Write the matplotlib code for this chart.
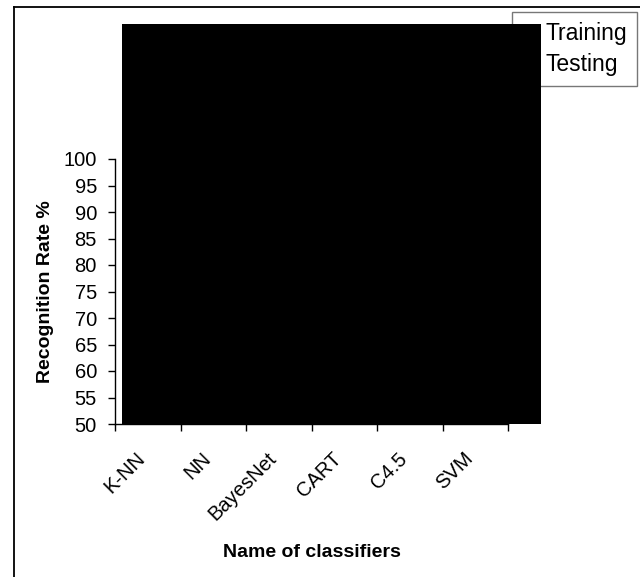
import matplotlib
matplotlib.use("Agg")
import matplotlib.pyplot as plt
from matplotlib.patches import Rectangle, Patch
from matplotlib.lines import Line2D
from matplotlib.transforms import ScaledTranslation
import numpy as np

plt.rcParams['font.family'] = ['Liberation Sans', 'DejaVu Sans']

classifiers = ["K-NN", "NN", "BayesNet", "CART", "C4.5", "SVM"]
series = ["Training", "Testing"]
y_ticks = [50, 55, 60, 65, 70, 75, 80, 85, 90, 95, 100]

# extent of the filled panel in data units
panel_left, panel_right = -0.39, 6.0
panel_bottom, panel_top = 50, 125.5

W, H = 640, 577
fig = plt.figure(figsize=(W / 100, H / 100), dpi=100)
ax = fig.add_axes([115 / W, 1 - 424 / H, (508 - 115) / W, (424 - 159) / H])

n = len(classifiers)
ax.set_xlim(-0.5, n - 0.5)
ax.set_ylim(y_ticks[0], y_ticks[-1])
ax.set_yticks(y_ticks)
ax.set_yticklabels([str(v) for v in y_ticks], fontsize=14.5)

ax.set_xticks(np.arange(n + 1) - 0.5)
ax.set_xticklabels([])
ax.set_xticks(np.arange(n), minor=True)
ax.set_xticklabels(classifiers, minor=True, rotation=45, ha='right', va='top',
                   rotation_mode='anchor', fontsize=14.5)
ax.tick_params(axis='x', which='minor', length=0, pad=18)
ax.tick_params(axis='both', which='major', direction='out', length=5, width=1,
               color='black')
ax.tick_params(axis='y', which='major', pad=8)
shift = ScaledTranslation(-12 / 100, 0, fig.dpi_scale_trans)
for lab in ax.get_xticklabels(minor=True):
    lab.set_transform(lab.get_transform() + shift)

for s in ['top', 'right']:
    ax.spines[s].set_visible(False)
ax.spines['left'].set_linewidth(1)
ax.spines['bottom'].set_linewidth(1)

ax.set_ylabel("Recognition Rate %", fontsize=14, fontweight='bold', labelpad=7)
ax.set_xlabel("Name of classifiers", fontsize=14, fontweight='bold', labelpad=14)

handles = [Patch(facecolor='black', edgecolor='black', label=s) for s in series]
leg = ax.legend(handles=handles, loc='upper right',
                bbox_to_anchor=(637 / W, 1 - 12 / H), bbox_transform=fig.transFigure,
                fontsize=16.5, frameon=True, fancybox=False, borderpad=0.45,
                handlelength=0.45, handleheight=0.45, handletextpad=0.55,
                labelspacing=0.32, borderaxespad=0)
leg.get_frame().set_edgecolor('#555555')
leg.get_frame().set_linewidth(1)
leg.set_zorder(5)

ax.add_patch(Rectangle((panel_left, panel_bottom), panel_right - panel_left,
                       panel_top - panel_bottom, facecolor='black',
                       edgecolor='none', clip_on=False, zorder=10))

# outer frame lines
fig.add_artist(Line2D([14 / W, 14 / W], [0, 1 - 7 / H], color='black', lw=1.3,
                      transform=fig.transFigure))
fig.add_artist(Line2D([14 / W, 1], [1 - 7 / H, 1 - 7 / H], color='black', lw=1.3,
                      transform=fig.transFigure))

fig.savefig("out.png", dpi=100, facecolor='white')
